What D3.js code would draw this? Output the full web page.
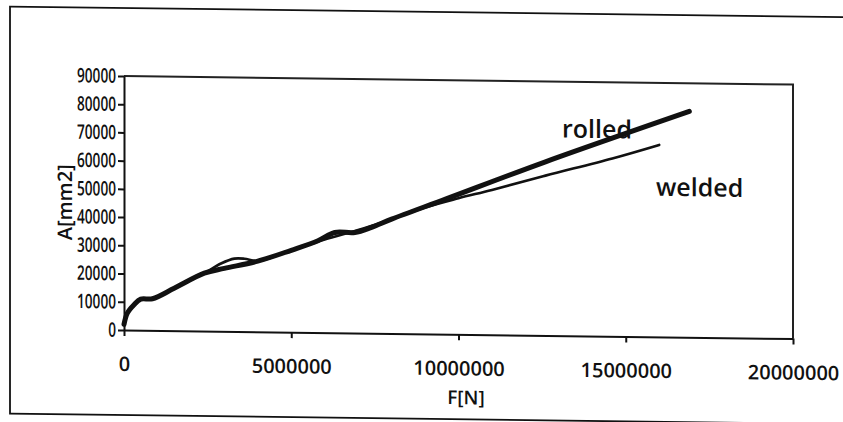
<!DOCTYPE html>
<html>
<head>
<meta charset="utf-8">
<script src="https://cdn.jsdelivr.net/npm/d3@7"></script>
<style>
  html, body { margin: 0; padding: 0; background: #fff; }
  svg { display: block; }
  text { font-family: "Open Sans", "Noto Sans", sans-serif; fill: #111; }
</style>
</head>
<body>
<svg id="chart" width="843" height="422"></svg>
<script>
// Force F [N] and required section area A [mm2]
const forceRolled = [0, 0.1e6, 0.3e6, 0.5e6, 0.85e6, 1.5e6, 2.4e6, 3.0e6, 4.0e6, 5.0e6, 5.8e6, 6.3e6, 6.9e6, 7.4e6, 8.0e6, 9.65e6, 12.6e6, 16.9e6];
const areaRolled  = [2000, 6000, 9000, 11000, 11200, 15000, 20500, 22300, 25000, 29000, 32500, 35500, 35600, 37500, 40500, 48000, 61500, 80000];

const forceWelded = [0, 0.1e6, 0.3e6, 0.5e6, 0.85e6, 1.5e6, 2.4e6, 2.9e6, 3.3e6, 3.6e6, 4.0e6, 5.0e6, 6.0e6, 7.0e6, 8.0e6, 9.0e6, 10.0e6, 11.0e6, 12.6e6, 14.6e6, 16.0e6];
const areaWelded  = [2000, 6000, 9000, 11000, 11200, 15000, 20500, 24000, 25800, 25800, 25000, 29000, 33000, 36500, 40500, 44800, 48200, 51300, 56600, 63000, 68000];

const xTicks = [0, 5000000, 10000000, 15000000, 20000000];
const yTicks = [0, 10000, 20000, 30000, 40000, 50000, 60000, 70000, 80000, 90000];

const seriesNames = ["rolled", "welded"];
const xTitle = "F[N]";
const yTitle = "A[mm2]";

const svg = d3.select("#chart");
const plotL = 124, plotR = 793, plotT = 76, plotB = 330;

// whole sheet sits slightly tilted
const root = svg.append("g")
  .attr("transform", `translate(${plotL},0) skewY(0.73) translate(${-plotL},0)`);

// outer chart frame
root.append("rect")
  .attr("x", 10).attr("y", 8)
  .attr("width", 880).attr("height", 407)
  .attr("fill", "none").attr("stroke", "#111").attr("stroke-width", 1.8);

const x = d3.scaleLinear().domain([0, 20000000]).range([plotL, plotR]);
const y = d3.scaleLinear().domain([0, 90000]).range([plotB, plotT]);

// plot area border (top and right)
root.append("path")
  .attr("d", `M${plotL},${plotT}H${plotR}V${plotB}`)
  .attr("fill", "none").attr("stroke", "#222").attr("stroke-width", 2);

const yAxis = root.append("g")
  .attr("transform", `translate(${plotL},0)`)
  .call(d3.axisLeft(y).tickValues(yTicks).tickSize(6).tickPadding(2).tickFormat(d3.format("d")).tickSizeOuter(0));

const xAxis = root.append("g")
  .attr("transform", `translate(0,${plotB})`)
  .call(d3.axisBottom(x).tickValues(xTicks).tickSize(6).tickPadding(21).tickFormat(d3.format("d")).tickSizeOuter(0));

[yAxis, xAxis].forEach(a => {
  a.select(".domain").attr("stroke", "#111").attr("stroke-width", 2);
  a.selectAll(".tick line").attr("stroke", "#111").attr("stroke-width", 2);
  a.selectAll(".tick text")
    .attr("fill", "#111")
    .style("font-size", "20px")
    .style("font-weight", 600)
    .style("font-family", '"Open Sans", sans-serif');
});

// value labels on the A axis are set in a narrow face
yAxis.selectAll(".tick text")
  .style("font-size", "20px")
  .attr("textLength", d => String(d).length * 7.8)
  .attr("lengthAdjust", "spacingAndGlyphs");

const line = d3.line()
  .x(d => x(d[0]))
  .y(d => y(d[1]))
  .curve(d3.curveCatmullRom.alpha(0.5));

const welded = forceWelded.map((f, i) => [f, areaWelded[i]]);
const rolled = forceRolled.map((f, i) => [f, areaRolled[i]]);

root.append("path").datum(welded)
  .attr("d", line)
  .attr("fill", "none").attr("stroke", "#111")
  .attr("stroke-width", 2.6).attr("stroke-linejoin", "round").attr("stroke-linecap", "round");

root.append("path").datum(rolled)
  .attr("d", line)
  .attr("fill", "none").attr("stroke", "#111")
  .attr("stroke-width", 5).attr("stroke-linejoin", "round").attr("stroke-linecap", "round");

// series labels
root.append("text")
  .attr("x", 562).attr("y", 132)
  .style("font-size", "25px").style("font-weight", 600)
  .text(seriesNames[0]);
root.append("text")
  .attr("x", 656).attr("y", 189)
  .style("font-size", "25px").style("font-weight", 600)
  .text(seriesNames[1]);

// axis titles
root.append("text")
  .attr("x", 466).attr("y", 400)
  .attr("text-anchor", "middle")
  .style("font-size", "19px").style("font-weight", 600)
  .text(xTitle);

root.append("text")
  .attr("transform", `translate(72,203) rotate(-90)`)
  .attr("text-anchor", "middle")
  .style("font-size", "20px").style("font-weight", 600)
  .text(yTitle);
</script>
</body>
</html>
